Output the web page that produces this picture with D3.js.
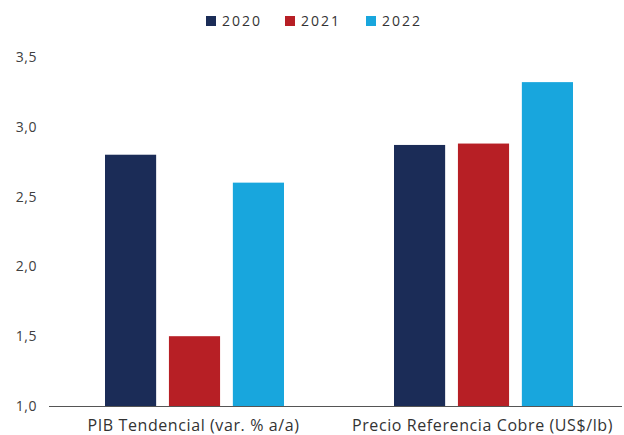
<!DOCTYPE html>
<html>
<head>
<meta charset="utf-8">
<script src="https://cdn.jsdelivr.net/npm/d3@7"></script>
<style>
  html, body { margin: 0; padding: 0; background: #fff; }
  svg { display: block; }
  text { font-family: "Open Sans", "Noto Sans", sans-serif; }
</style>
</head>
<body>
<svg id="chart" width="624" height="435"></svg>
<script>
const categories = ["PIB Tendencial (var. % a/a)", "Precio Referencia Cobre (US$/lb)"];
const seriesNames = ["2020", "2021", "2022"];
const values2020 = [2.8, 2.87];
const values2021 = [1.5, 2.88];
const values2022 = [2.6, 3.32];
const yTicks = [1.0, 1.5, 2.0, 2.5, 3.0, 3.5];
const colors = ["#1b2c57", "#b71f25", "#18a6dd"];

const seriesValues = [values2020, values2021, values2022];
const svg = d3.select("#chart");

const y = d3.scaleLinear().domain([1.0, 3.5]).range([406, 57]);
const x0 = d3.scaleBand().domain(categories).range([50, 628]).padding(0);
const x1 = d3.scaleBand().domain(seriesNames).range([55, 234]).paddingInner(0.2).paddingOuter(0);
const color = d3.scaleOrdinal().domain(seriesNames).range(colors);

// bars
const groups = svg.append("g").selectAll("g")
  .data(categories).join("g")
  .attr("transform", d => `translate(${x0(d)},0)`);

groups.selectAll("rect")
  .data((d, i) => seriesNames.map((s, j) => ({ s, v: seriesValues[j][i] })))
  .join("rect")
  .attr("x", d => x1(d.s))
  .attr("width", x1.bandwidth())
  .attr("y", d => y(d.v))
  .attr("height", d => y(1.0) - y(d.v))
  .attr("fill", d => color(d.s));

// y axis labels
const fmt = v => d3.format(".1f")(v).replace(".", ",");
svg.append("g").selectAll("text")
  .data(yTicks).join("text")
  .attr("x", 37)
  .attr("y", d => y(d))
  .attr("dy", "0.35em")
  .attr("text-anchor", "end")
  .attr("font-size", 14)
  .attr("letter-spacing", 0.5)
  .attr("fill", "#404040")
  .text(fmt);

// x axis line
svg.append("line")
  .attr("x1", 49).attr("x2", 622)
  .attr("y1", y(1.0) + 0.5).attr("y2", y(1.0) + 0.5)
  .attr("stroke", "#555").attr("stroke-width", 1);

// category labels
svg.append("g").selectAll("text")
  .data(categories).join("text")
  .attr("x", d => x0(d) + x0.bandwidth() / 2 - 1)
  .attr("y", 431)
  .attr("text-anchor", "middle")
  .attr("font-size", 16)
  .attr("letter-spacing", 0.6)
  .attr("fill", "#333")
  .text(d => d);

// legend
const legendX = [206, 285, 366];
const legend = svg.append("g").selectAll("g")
  .data(seriesNames).join("g")
  .attr("transform", (d, i) => `translate(${legendX[i]},16)`);
legend.append("rect").attr("width", 10).attr("height", 10).attr("fill", d => color(d));
legend.append("text").attr("x", 16).attr("y", 5).attr("dy", "0.35em")
  .attr("font-size", 14).attr("letter-spacing", 2).attr("fill", "#333").text(d => d);
</script>
</body>
</html>
